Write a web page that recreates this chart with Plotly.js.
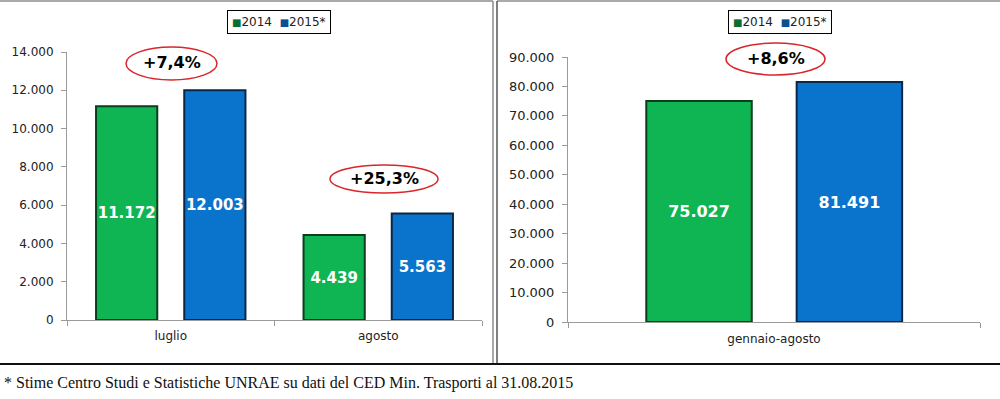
<!DOCTYPE html>
<html>
<head>
<meta charset="utf-8">
<script src="https://cdn.plot.ly/plotly-3.0.1.min.js"></script>
<style>html,body{margin:0;padding:0;background:#fff;}#chart{width:1000px;height:399px;}</style>
</head>
<body>
<div id="chart"></div>
<script>
// ---- data ----
const monthCategories = ['luglio', 'agosto'];
const values2014Month = [11172, 4439];
const values2015Month = [12003, 5563];
const ytdCategories = ['gennaio-agosto'];
const values2014Ytd = [75027];
const values2015Ytd = [81491];
const seriesNames = ['2014', '2015*'];
const changeLabels = ['+7,4%', '+25,3%', '+8,6%'];
const footnote = '* Stime Centro Studi e Statistiche UNRAE su dati del CED Min. Trasporti al 31.08.2015';

// ---- helpers ----
const W = 1000, H = 399;
const px = x => x / W;
const py = y => 1 - y / H;
const fmt = v => String(v).replace(/\B(?=(\d{3})+(?!\d))/g, '.');

const GREEN = '#0fb552', GREEN_EDGE = '#0b3d1e';
const BLUE = '#0a74cc', BLUE_EDGE = '#0b2747';
const FONT = 'DejaVu Sans, Verdana, sans-serif';

function barTrace(x, y, name, color, edge, xa, ya, width, offset, fs) {
  return {
    type: 'bar', x: x, y: y, name: name, xaxis: xa, yaxis: ya,
    width: width, offset: offset,
    marker: {color: color, line: {color: edge, width: 2}},
    text: y.map(fmt), textposition: 'inside', insidetextanchor: 'middle',
    textangle: 0, constraintext: 'none',
    textfont: {family: FONT, size: fs, color: '#ffffff', weight: 700},
    showlegend: false, hoverinfo: 'x+y'
  };
}

const data = [
  barTrace(monthCategories, values2014Month, seriesNames[0], GREEN, GREEN_EDGE, 'x', 'y', 0.295, -0.36, 15),
  barTrace(monthCategories, values2015Month, seriesNames[1], BLUE, BLUE_EDGE, 'x', 'y', 0.295, 0.065, 15),
  barTrace(ytdCategories, values2014Ytd, seriesNames[0], GREEN, GREEN_EDGE, 'x2', 'y2', 0.256, -0.31, 16),
  barTrace(ytdCategories, values2015Ytd, seriesNames[1], BLUE, BLUE_EDGE, 'x2', 'y2', 0.256, 0.055, 16)
];

const axisCommon = {
  showline: true, linecolor: '#9a9a9a', linewidth: 1,
  ticks: 'outside', ticklen: 5, tickcolor: '#9a9a9a', tickwidth: 1,
  showgrid: false, zeroline: false, fixedrange: true
};

function legendText() {
  return '<span style="color:#0a6e33;font-size:10px">■</span>' + seriesNames[0] +
         '\u00a0\u00a0<span style="color:#0a4f8f;font-size:10px">■</span>' + seriesNames[1];
}

function changeBubble(cx, cy, rx, ry, label) {
  return {
    shape: {type: 'circle', xref: 'paper', yref: 'paper',
            x0: px(cx - rx), x1: px(cx + rx), y0: py(cy + ry), y1: py(cy - ry),
            line: {color: '#d9262b', width: 1.5}, fillcolor: 'rgba(0,0,0,0)'},
    ann: {xref: 'paper', yref: 'paper', x: px(cx), y: py(cy - 1), xanchor: 'center', yanchor: 'middle',
          showarrow: false, text: label,
          font: {family: FONT, size: 16, color: '#000', weight: 700}}
  };
}

const bubbles = [
  changeBubble(171.5, 63.5, 45.5, 16.5, changeLabels[0]),
  changeBubble(384, 179, 54, 14, changeLabels[1]),
  changeBubble(775.5, 59, 49.5, 16, changeLabels[2])
];

const layout = {
  width: W, height: H, autosize: false,
  margin: {l: 0, r: 0, t: 0, b: 0, pad: 0},
  paper_bgcolor: '#ffffff', plot_bgcolor: 'rgba(0,0,0,0)',
  separators: ',.',
  showlegend: false,
  font: {family: FONT, size: 12, color: '#222'},
  xaxis: Object.assign({}, axisCommon, {
    domain: [px(67), px(482)], anchor: 'y', type: 'category', tickson: 'boundaries',
    range: [-0.5, 1.5], tickfont: {family: FONT, size: 12, color: '#222'}, ticklabelstandoff: 5
  }),
  yaxis: Object.assign({}, axisCommon, {
    domain: [py(320), py(52)], anchor: 'x', range: [0, 14000], dtick: 2000, tickformat: ',d',
    tickfont: {family: FONT, size: 12, color: '#222'}, ticklabelstandoff: 5
  }),
  xaxis2: Object.assign({}, axisCommon, {
    domain: [px(568), px(980)], anchor: 'y2', type: 'category', tickson: 'boundaries',
    range: [-0.5, 0.5], tickfont: {family: FONT, size: 12, color: '#222'}, ticklabelstandoff: 6
  }),
  yaxis2: Object.assign({}, axisCommon, {
    domain: [py(322), py(57)], anchor: 'x2', range: [0, 90000], dtick: 10000, tickformat: ',d',
    tickfont: {family: FONT, size: 13, color: '#222'}, ticklabelstandoff: 5
  }),
  shapes: [
    // panel frames
    {type: 'line', xref: 'paper', yref: 'paper', x0: 0, x1: px(493), y0: py(1), y1: py(1), line: {color: '#8c8c8c', width: 1.5}},
    {type: 'line', xref: 'paper', yref: 'paper', x0: px(493), x1: px(493), y0: py(1), y1: py(364), line: {color: '#8c8c8c', width: 1.5}},
    {type: 'line', xref: 'paper', yref: 'paper', x0: px(497), x1: 1, y0: py(1), y1: py(1), line: {color: '#8c8c8c', width: 1.5}},
    {type: 'line', xref: 'paper', yref: 'paper', x0: px(497), x1: px(497), y0: py(1), y1: py(364), line: {color: '#555', width: 1.5}},
    {type: 'line', xref: 'paper', yref: 'paper', x0: 0, x1: 1, y0: py(364), y1: py(364), line: {color: '#111', width: 2}}
  ].concat(bubbles.map(b => b.shape)),
  annotations: [
    {xref: 'paper', yref: 'paper', x: px(279), y: py(22), xanchor: 'center', yanchor: 'middle',
     showarrow: false, text: legendText(), font: {family: FONT, size: 12, color: '#222'},
     bordercolor: '#000', borderwidth: 1, borderpad: 4, bgcolor: '#fff'},
    {xref: 'paper', yref: 'paper', x: px(780), y: py(22.5), xanchor: 'center', yanchor: 'middle',
     showarrow: false, text: legendText(), font: {family: FONT, size: 12, color: '#222'},
     bordercolor: '#000', borderwidth: 1, borderpad: 4, bgcolor: '#fff'},
    {xref: 'paper', yref: 'paper', x: px(2), y: py(383), xanchor: 'left', yanchor: 'middle',
     showarrow: false, text: footnote, font: {family: 'Liberation Serif, Times New Roman, serif', size: 16, color: '#111'}}
  ].concat(bubbles.map(b => b.ann))
};

Plotly.newPlot('chart', data, layout, {displayModeBar: false, staticPlot: true});
</script>
</body>
</html>
